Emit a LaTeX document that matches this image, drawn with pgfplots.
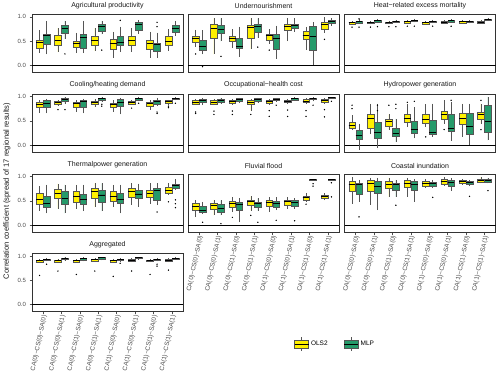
\documentclass[border=0pt]{standalone}
\usepackage{pgfplots}
\pgfplotsset{compat=1.18}
\usepgfplotslibrary{statistics}
\usepackage{fontspec}
\setmainfont{Liberation Sans}

\definecolor{olsY}{HTML}{FFF000}
\definecolor{mlpG}{HTML}{259A6A}
\definecolor{boxline}{HTML}{555555}
\definecolor{ticktxt}{HTML}{4D4D4D}

% yellow / green box: position, lower whisker, lower quartile, median, upper quartile, upper whisker
\newcommand{\bx}[7]{\addplot[forget plot, draw=boxline, fill=#2, line width=0.45pt,
  boxplot prepared={draw direction=y, draw position=#1, lower whisker=#3, lower quartile=#4, median=#5,
  upper quartile=#6, upper whisker=#7, box extend=0.36, whisker extend=0}] coordinates {};}
\newcommand{\by}[6]{\bx{#1}{olsY}{#2}{#3}{#4}{#5}{#6}}
\newcommand{\bg}[6]{\bx{#1}{mlpG}{#2}{#3}{#4}{#5}{#6}}
\newcommand{\zero}{\addplot[forget plot, black, line width=0.6pt] coordinates {(0.4,0) (8.6,0)};}

\pgfplotsset{
  panel/.style={scale only axis, width=151pt, height=58pt, anchor=north west,
    xmin=0.4, xmax=8.6, ymin=-0.14, ymax=1.05,
    axis line style={draw=black!80, line width=0.6pt},
    xtick=\empty, ytick=\empty, tick pos=left,
    tick align=outside, major tick length=2.5pt,
    tick style={ticktxt, line width=0.5pt},
    ticklabel style={font=\fontsize{6}{7}\selectfont, text=ticktxt},
    title style={font=\fontsize{7}{8}\selectfont, yshift=-1.5pt, inner sep=1pt, text=black!90},
    boxplot/every median/.style={black, line width=0.9pt},
    outl/.style={forget plot, only marks, mark=*, mark size=0.45pt, black},
  },
  yt/.style={ytick={0,0.5,1}, yticklabels={0.0,0.5,1.0}},
  xt/.style={xtick={1,2,3,4,5,6,7,8},
    xticklabels={CA(0)−CS(0)−SA(0),CA(0)−CS(0)−SA(1),CA(0)−CS(1)−SA(0),CA(0)−CS(1)−SA(1),
                 CA(1)−CS(0)−SA(0),CA(1)−CS(0)−SA(1),CA(1)−CS(1)−SA(0),CA(1)−CS(1)−SA(1)},
    xticklabel style={rotate=78, anchor=east, inner sep=1pt, yshift=-2pt,
      font=\fontsize{6.3}{7}\selectfont}},
}

\begin{document}
\begin{tikzpicture}
\path (0,0) rectangle (500pt,-382pt);
\node[rotate=90, font=\fontsize{7.6}{9}\selectfont, text=black!90] at (7pt,-191pt)
  {Correlation coefficient (spread of 17 regional results)};

% ---- row 1 ----
\begin{axis}[panel, yt, at={(32pt,-14.5pt)}, title={Agricultural productivity}]
\zero
\by{0.81}{.26}{.36}{.47}{.53}{.73} \bg{1.19}{.23}{.43}{.61}{.64}{.92}
\by{1.81}{.28}{.41}{.51}{.62}{.77} \bg{2.19}{.55}{.66}{.76}{.84}{.92}
\by{2.81}{.26}{.38}{.45}{.51}{.68} \bg{3.19}{.26}{.36}{.57}{.64}{.92}
\by{3.81}{.30}{.41}{.51}{.60}{.77} \bg{4.19}{.64}{.70}{.80}{.85}{.92}
\by{4.81}{.16}{.34}{.45}{.55}{.70} \bg{5.19}{.28}{.41}{.48}{.61}{.80}
\by{5.81}{.28}{.41}{.51}{.61}{.77} \bg{6.19}{.66}{.73}{.84}{.90}{.93}
\by{6.81}{.16}{.34}{.45}{.53}{.70} \bg{7.19}{.16}{.30}{.43}{.47}{.68}
\by{7.81}{.30}{.41}{.50}{.61}{.75} \bg{8.19}{.61}{.68}{.76}{.82}{.92}
\addplot[outl] coordinates {(2.19,.24) (4.19,.32) (5.19,.93) (7.19,.89) (7.19,.80)};
\end{axis}

\begin{axis}[panel, at={(188pt,-14.5pt)}, title={Undernourishment}]
\zero
\by{0.81}{.38}{.48}{.55}{.61}{.74} \bg{1.19}{.23}{.32}{.39}{.53}{.73}
\by{1.81}{.23}{.57}{.77}{.85}{.97} \bg{2.19}{.50}{.66}{.75}{.82}{.97}
\by{2.81}{.36}{.50}{.56}{.61}{.75} \bg{3.19}{.18}{.36}{.39}{.57}{.80}
\by{3.81}{.34}{.57}{.78}{.84}{.97} \bg{4.19}{.57}{.68}{.81}{.85}{.97}
\by{4.81}{.45}{.53}{.61}{.65}{.75} \bg{5.19}{.14}{.34}{.55}{.65}{.82}
\by{5.81}{.50}{.72}{.80}{.86}{.97} \bg{6.19}{.70}{.77}{.82}{.86}{.97}
\by{6.81}{.32}{.55}{.61}{.70}{.80} \bg{7.19}{.02}{.31}{.59}{.80}{.89}
\by{7.81}{.68}{.75}{.84}{.89}{.99} \bg{8.19}{.82}{.87}{.91}{.94}{.97}
\addplot[outl] coordinates {(0.81,.24) (1.19,-.02) (2.19,.19) (4.19,.38) (4.81,.32) (7.81,.54)};
\end{axis}

\begin{axis}[panel, at={(344.5pt,-14.5pt)}, title={Heat−related excess mortality}]
\zero
\by{0.81}{.84}{.86}{.88}{.89}{.92} \bg{1.19}{.86}{.88}{.90}{.91}{.95}
\by{1.81}{.85}{.87}{.88}{.90}{.92} \bg{2.19}{.87}{.90}{.92}{.93}{.95}
\by{2.81}{.85}{.88}{.89}{.90}{.92} \bg{3.19}{.88}{.90}{.91}{.92}{.94}
\by{3.81}{.85}{.88}{.90}{.91}{.93} \bg{4.19}{.89}{.91}{.93}{.94}{.96}
\by{4.81}{.84}{.86}{.88}{.89}{.92} \bg{5.19}{.87}{.89}{.91}{.92}{.94}
\by{5.81}{.85}{.87}{.89}{.91}{.93} \bg{6.19}{.88}{.90}{.92}{.93}{.95}
\by{6.81}{.86}{.88}{.90}{.91}{.93} \bg{7.19}{.87}{.89}{.90}{.91}{.93}
\by{7.81}{.86}{.88}{.89}{.91}{.93} \bg{8.19}{.92}{.94}{.95}{.96}{.97}
\addplot[outl] coordinates {(0.81,.79) (1.19,.79) (1.19,.96) (1.81,.79) (2.19,.80) (2.81,.80) (3.19,.80)
  (3.81,.81) (4.19,.81) (5.19,.81) (6.19,.81)};
\end{axis}

% ---- row 2 ----
\begin{axis}[panel, yt, at={(32pt,-94pt)}, title={Cooling/heating demand}]
\zero
\by{0.81}{.66}{.78}{.84}{.88}{.92} \bg{1.19}{.65}{.78}{.86}{.92}{.95}
\by{1.81}{.80}{.84}{.87}{.90}{.93} \bg{2.19}{.85}{.90}{.94}{.97}{.99}
\by{2.81}{.68}{.77}{.86}{.88}{.92} \bg{3.19}{.65}{.78}{.90}{.92}{.95}
\by{3.81}{.78}{.83}{.87}{.90}{.94} \bg{4.19}{.88}{.92}{.95}{.97}{.99}
\by{4.81}{.68}{.77}{.84}{.87}{.92} \bg{5.19}{.63}{.80}{.87}{.94}{.97}
\by{5.81}{.82}{.85}{.88}{.90}{.93} \bg{6.19}{.90}{.93}{.96}{.97}{.99}
\by{6.81}{.73}{.80}{.85}{.88}{.92} \bg{7.19}{.80}{.84}{.90}{.93}{.97}
\by{7.81}{.82}{.87}{.90}{.92}{.93} \bg{8.19}{.92}{.95}{.96}{.97}{.99}
\addplot[outl] coordinates {(1.81,.73) (2.19,.73) (4.19,.84) (4.19,.80) (5.81,.76) (6.19,.86)
  (7.19,.68) (7.19,.65) (7.81,.80) (7.81,.77) (8.19,.86)};
\end{axis}

\begin{axis}[panel, at={(188pt,-94pt)}, title={Occupational−health cost}]
\zero
\by{0.81}{.82}{.85}{.88}{.92}{.94} \bg{1.19}{.82}{.88}{.92}{.95}{.96}
\by{1.81}{.82}{.85}{.88}{.92}{.94} \bg{2.19}{.85}{.89}{.92}{.95}{.97}
\by{2.81}{.83}{.86}{.89}{.92}{.94} \bg{3.19}{.87}{.90}{.93}{.96}{.97}
\by{3.81}{.71}{.85}{.88}{.92}{.94} \bg{4.19}{.87}{.91}{.93}{.96}{.97}
\by{4.81}{.83}{.86}{.89}{.93}{.95} \bg{5.19}{.89}{.92}{.94}{.96}{.97}
\by{5.81}{.85}{.88}{.90}{.93}{.95} \bg{6.19}{.91}{.93}{.95}{.97}{.98}
\by{6.81}{.84}{.88}{.90}{.94}{.96} \bg{7.19}{.90}{.94}{.95}{.97}{.98}
\by{7.81}{.85}{.89}{.91}{.94}{.96} \bg{8.19}{.95}{.96}{.97}{.98}{.99}
\addplot[outl] coordinates {(0.81,.68) (0.81,.65) (1.81,.70) (1.81,.63) (2.81,.70) (2.81,.63)
  (3.81,.63) (4.81,.71) (4.81,.59) (5.19,.82) (5.81,.72) (5.81,.59) (6.81,.71) (6.81,.59)
  (7.19,.82) (7.81,.73) (7.81,.58) (8.19,.90)};
\end{axis}

\begin{axis}[panel, at={(344.5pt,-94pt)}, title={Hydropower generation}]
\zero
\by{0.81}{.31}{.34}{.41}{.48}{.61} \bg{1.19}{-.09}{.12}{.20}{.31}{.44}
\by{1.81}{.22}{.34}{.54}{.63}{.85} \bg{2.19}{-.05}{.14}{.27}{.48}{.85}
\by{2.81}{.32}{.39}{.48}{.54}{.63} \bg{3.19}{.07}{.18}{.24}{.34}{.54}
\by{3.81}{.37}{.48}{.54}{.63}{.85} \bg{4.19}{.14}{.24}{.32}{.50}{.78}
\by{4.81}{.37}{.46}{.52}{.63}{.84} \bg{5.19}{.17}{.22}{.27}{.51}{.85}
\by{5.81}{.44}{.54}{.63}{.70}{.92} \bg{6.19}{.09}{.29}{.34}{.63}{.88}
\by{6.81}{.17}{.44}{.54}{.66}{.85} \bg{7.19}{.00}{.22}{.39}{.66}{.85}
\by{7.81}{.44}{.54}{.63}{.68}{.85} \bg{8.19}{.10}{.27}{.48}{.82}{.99}
\addplot[outl] coordinates {(0.81,.82) (0.81,.75) (2.19,.82) (2.19,.71) (2.81,.82) (3.19,.84)
  (3.19,.75) (3.81,.88) (4.19,.90) (4.81,.17) (5.81,.32) (6.19,.92) (7.81,.92) (7.81,.32)};
\end{axis}

% ---- row 3 ----
\begin{axis}[panel, yt, at={(32pt,-174pt)}, title={Thermalpower generation}]
\zero
\by{0.81}{.30}{.44}{.52}{.65}{.80} \bg{1.19}{.24}{.36}{.44}{.59}{.83}
\by{1.81}{.34}{.55}{.65}{.73}{.85} \bg{2.19}{.24}{.43}{.55}{.69}{.83}
\by{2.81}{.34}{.48}{.58}{.69}{.83} \bg{3.19}{.29}{.44}{.52}{.64}{.83}
\by{3.81}{.37}{.55}{.69}{.76}{.86} \bg{4.19}{.29}{.48}{.62}{.72}{.86}
\by{4.81}{.37}{.50}{.59}{.69}{.83} \bg{5.19}{.24}{.45}{.52}{.65}{.83}
\by{5.81}{.41}{.58}{.69}{.76}{.86} \bg{6.19}{.37}{.55}{.64}{.72}{.85}
\by{6.81}{.44}{.58}{.65}{.72}{.86} \bg{7.19}{.41}{.51}{.71}{.76}{.86}
\by{7.81}{.62}{.66}{.72}{.78}{.86} \bg{8.19}{.73}{.76}{.81}{.85}{.94}
\addplot[outl] coordinates {(7.19,.27) (7.81,.48) (8.19,.52) (8.19,.44) (8.19,.36)};
\end{axis}

\begin{axis}[panel, xt, at={(188pt,-174pt)}, title={Fluvial flood}]
\zero
\by{0.81}{.16}{.31}{.38}{.45}{.52} \bg{1.19}{.23}{.27}{.31}{.38}{.48}
\by{1.81}{.20}{.32}{.41}{.45}{.52} \bg{2.19}{.20}{.27}{.34}{.42}{.51}
\by{2.81}{.27}{.37}{.45}{.50}{.58} \bg{3.19}{.06}{.30}{.43}{.48}{.55}
\by{3.81}{.30}{.41}{.48}{.51}{.59} \bg{4.19}{.30}{.36}{.44}{.48}{.55}
\by{4.81}{.27}{.39}{.46}{.51}{.58} \bg{5.19}{.31}{.37}{.44}{.49}{.57}
\by{5.81}{.34}{.41}{.48}{.51}{.58} \bg{6.19}{.34}{.39}{.46}{.51}{.55}
\by{6.81}{.48}{.52}{.57}{.59}{.65} \bg{7.19}{.91}{.92}{.93}{.94}{.94}
\by{7.81}{.51}{.55}{.58}{.62}{.65} \bg{8.19}{.91}{.92}{.93}{.94}{.94}
\addplot[outl] coordinates {(1.19,.06) (2.19,.03) (2.81,.16) (3.81,.20) (4.19,.06) (5.19,.10)
  (6.19,.09) (6.81,.43) (7.19,.85) (7.19,.80) (8.19,.87) (8.19,.58)};
\end{axis}

\begin{axis}[panel, xt, at={(344.5pt,-174pt)}, title={Coastal inundation}]
\zero
\by{0.81}{.44}{.69}{.83}{.90}{.99} \bg{1.19}{.48}{.64}{.83}{.86}{.93}
\by{1.81}{.41}{.69}{.85}{.93}{.97} \bg{2.19}{.31}{.66}{.80}{.90}{.97}
\by{2.81}{.58}{.76}{.83}{.90}{.97} \bg{3.19}{.58}{.71}{.83}{.87}{.93}
\by{3.81}{.58}{.78}{.86}{.93}{.97} \bg{4.19}{.48}{.72}{.83}{.90}{.94}
\by{4.81}{.76}{.80}{.86}{.90}{.94} \bg{5.19}{.76}{.80}{.85}{.88}{.93}
\by{5.81}{.80}{.85}{.90}{.94}{.99} \bg{6.19}{.71}{.80}{.88}{.93}{.97}
\by{6.81}{.83}{.86}{.90}{.93}{.95} \bg{7.19}{.80}{.85}{.87}{.90}{.93}
\by{7.81}{.86}{.88}{.92}{.95}{.99} \bg{8.19}{.86}{.88}{.91}{.94}{.97}
\addplot[outl] coordinates {(1.19,.17) (3.19,.41) (5.19,.57) (7.19,.59) (8.19,.71)};
\end{axis}

% ---- row 4 ----
\begin{axis}[panel, yt, xt, at={(32pt,-253.5pt)}, title={Aggregated},
  legend style={at={(1.715,-0.56)}, anchor=west, draw=none, fill=none, legend columns=2,
    font=\fontsize{6.5}{7}\selectfont, /tikz/every even column/.append style={column sep=14pt}},
  legend cell align=left]
\zero
\by{0.81}{.86}{.88}{.90}{.92}{.94} \bg{1.19}{.89}{.91}{.93}{.94}{.96}
\by{1.81}{.86}{.88}{.90}{.92}{.94} \bg{2.19}{.90}{.93}{.95}{.96}{.98}
\by{2.81}{.86}{.88}{.91}{.92}{.94} \bg{3.19}{.89}{.92}{.94}{.95}{.97}
\by{3.81}{.88}{.90}{.92}{.93}{.95} \bg{4.19}{.91}{.94}{.96}{.97}{.98}
\by{4.81}{.86}{.88}{.90}{.92}{.94} \bg{5.19}{.88}{.91}{.93}{.94}{.96}
\by{5.81}{.87}{.89}{.91}{.93}{.95} \bg{6.19}{.92}{.95}{.96}{.97}{.98}
\by{6.81}{.87}{.89}{.91}{.92}{.94} \bg{7.19}{.89}{.91}{.93}{.94}{.96}
\by{7.81}{.87}{.89}{.91}{.93}{.95} \bg{8.19}{.92}{.94}{.95}{.96}{.98}
\addplot[outl] coordinates {(0.81,.60) (1.19,.83) (1.81,.69) (2.81,.62) (3.81,.69) (4.81,.58)
  (5.19,.85) (5.81,.69) (6.81,.62) (7.19,.83) (7.19,.79) (7.81,.71)};
\addlegendimage{legend image code/.code={
  \draw[boxline, line width=0.45pt, fill=olsY] (0pt,-4pt) rectangle (14pt,4pt);
  \draw[black, line width=0.9pt] (0pt,0pt) -- (14pt,0pt);
  \draw[boxline, line width=0.45pt] (7pt,4pt) -- (7pt,7pt) (7pt,-4pt) -- (7pt,-7pt);}}
\addlegendentry{OLS2}
\addlegendimage{legend image code/.code={
  \draw[boxline, line width=0.45pt, fill=mlpG] (0pt,-4pt) rectangle (14pt,4pt);
  \draw[black, line width=0.9pt] (0pt,0pt) -- (14pt,0pt);
  \draw[boxline, line width=0.45pt] (7pt,4pt) -- (7pt,7pt) (7pt,-4pt) -- (7pt,-7pt);}}
\addlegendentry{MLP}
\end{axis}
\end{tikzpicture}
\end{document}
